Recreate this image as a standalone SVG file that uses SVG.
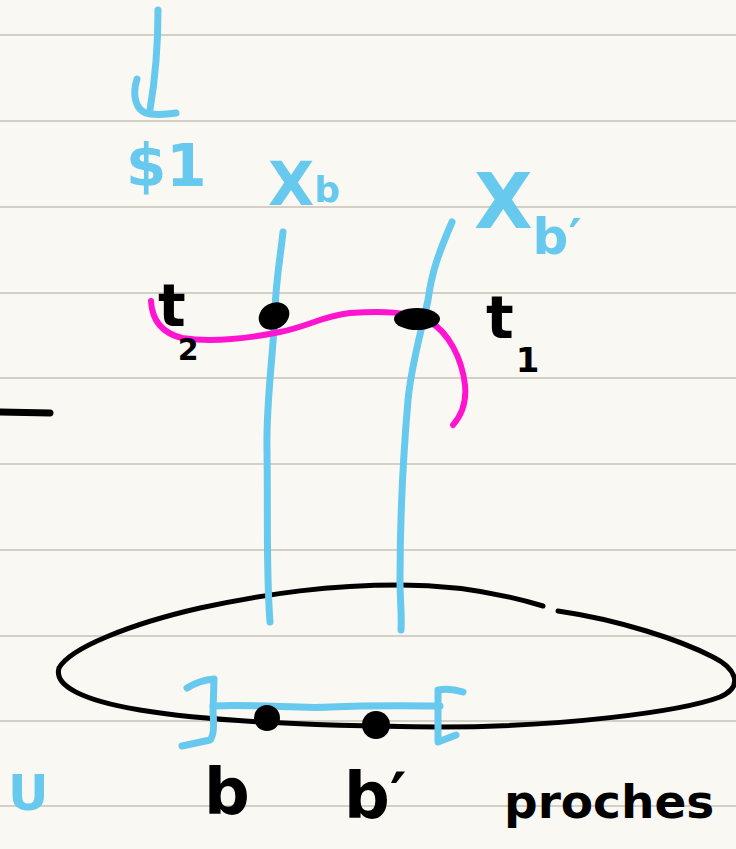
<svg xmlns="http://www.w3.org/2000/svg" width="736" height="849" viewBox="0 0 736 849">
<style>
.rule{stroke:#d4cfc7;stroke-width:2}
.blue{fill:none;stroke:#68c9ee;stroke-width:7;stroke-linecap:round;stroke-linejoin:round}
.blk{fill:none;stroke:#000;stroke-width:5;stroke-linecap:round;stroke-linejoin:round}
.mag{fill:none;stroke:#ff14d0;stroke-width:6;stroke-linecap:round;stroke-linejoin:round}
.tb{font-family:"DejaVu Sans",sans-serif;fill:#68c9ee;font-weight:bold}
.tk{font-family:"DejaVu Sans",sans-serif;fill:#000;font-weight:bold}
</style>
<rect width="736" height="849" fill="#faf8f3"/>
<g id="paper-lines">
<line class="rule" x1="0" y1="35" x2="736" y2="35"/>
<line class="rule" x1="0" y1="121" x2="736" y2="121"/>
<line class="rule" x1="0" y1="207" x2="736" y2="207"/>
<line class="rule" x1="0" y1="293" x2="736" y2="293"/>
<line class="rule" x1="0" y1="378" x2="736" y2="378"/>
<line class="rule" x1="0" y1="464" x2="736" y2="464"/>
<line class="rule" x1="0" y1="550" x2="736" y2="550"/>
<line class="rule" x1="0" y1="636" x2="736" y2="636"/>
<line class="rule" x1="0" y1="721" x2="736" y2="721"/>
<line class="rule" x1="0" y1="806" x2="736" y2="806"/>
</g>
<g id="base-disc">
<path class="blk" d="M543,606 C510,596 460,585 400,585 C330,585 270,593 200,608 C130,624 70,648 59,668 C54,685 80,700 140,710 C200,720 300,726 440,727 C560,727 680,712 720,697 C745,686 735,668 713,657 C680,640 620,620 558,611"/>
</g>
<g id="connectors">
<path class="blue" d="M158,10 C158,40 155,80 150,110"/>
<path class="blue" d="M137,79 C132,95 135,112 150,114 C160,115 170,114 176,113"/>
<path class="blk" d="M0,412 L50,413" style="stroke-width:7"/>
</g>
<g id="fiber-Xb">
<path class="blue" d="M283,232 C280,260 276,280 275,310 C273,360 266,400 267,450 C268,520 266,570 270,622"/>
<text class="tb" x="268" y="205" font-size="60">X<tspan font-size="36" dy="-3">b</tspan></text>
</g>
<g id="fiber-Xb-prime">
<path class="blue" d="M452,222 C440,250 432,270 428,300 C422,330 412,360 408,400 C402,470 400,540 400,580 C400,600 402,615 401,630"/>
<text class="tb" x="474" y="228" font-size="76">X<tspan font-size="50" dy="26">b′</tspan></text>
</g>
<g id="label-S1">
<text class="tb" x="126" y="186" font-size="58">$1</text>
</g>
<g id="section">
<path class="mag" d="M151,301 C152,320 162,333 182,338 C215,343 250,338 280,332 C310,326 322,316 350,313 C380,311 410,311 430,322 C448,332 462,358 465,385 C467,405 460,417 453,425"/>
<ellipse cx="274" cy="316" rx="16" ry="13" transform="rotate(-30 274 316)" fill="#000"/>
<ellipse cx="417" cy="319" rx="23" ry="11" fill="#000"/>
</g>
<g id="label-t2">
<text class="tk" x="158" y="326" font-size="58">t<tspan font-size="30" dx="-8" dy="34">2</tspan></text>
</g>
<g id="label-t1">
<text class="tk" x="486" y="338" font-size="58">t<tspan font-size="34" dx="2" dy="34">1</tspan></text>
</g>
<g id="neighbourhood">
<path class="blue" d="M187,688 Q200,680 214,679 L213,712 Q215,735 210,740 L182,746"/>
<path class="blue" d="M213,706 C260,704 300,709 330,707 C380,705 420,706 440,706"/>
<path class="blue" d="M463,692 Q450,688 438,690 L438,742 L456,735"/>
</g>
<g id="point-b">
<circle cx="267" cy="718" r="13" fill="#000"/>
<text class="tk" x="204" y="814" font-size="64">b</text>
</g>
<g id="point-b-prime">
<circle cx="376" cy="725" r="14" fill="#000"/>
<text class="tk" x="344" y="818" font-size="64">b′</text>
</g>
<g id="label-proches">
<text class="tk" x="504" y="818" font-size="47">proches</text>
</g>
<g id="label-U">
<text class="tb" x="8" y="810" font-size="50">U</text>
</g>
</svg>
